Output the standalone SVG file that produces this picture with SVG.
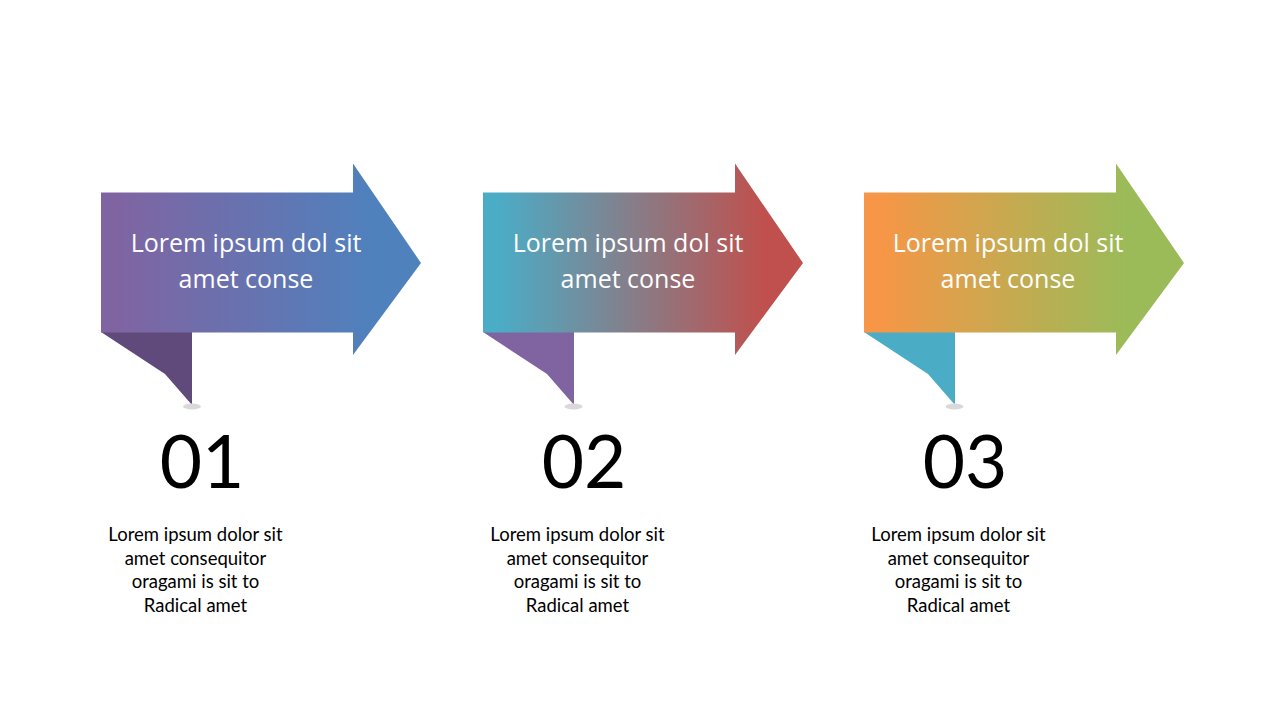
<svg xmlns="http://www.w3.org/2000/svg" width="1280" height="720" viewBox="0 0 1280 720">
<defs>
  <linearGradient id="g1" x1="0" y1="0" x2="1" y2="0">
    <stop offset="0.05" stop-color="#8064A2"/>
    <stop offset="0.85" stop-color="#4F81BD"/>
  </linearGradient>
  <linearGradient id="g2" x1="0" y1="0" x2="1" y2="0">
    <stop offset="0.05" stop-color="#4BACC6"/>
    <stop offset="0.88" stop-color="#C0504D"/>
  </linearGradient>
  <linearGradient id="g3" x1="0" y1="0" x2="1" y2="0">
    <stop offset="0.05" stop-color="#F79646"/>
    <stop offset="0.82" stop-color="#9BBB59"/>
  </linearGradient>
  <path id="arrowShape" d="M0,192.5 H252 V163.5 L320,263 L252,355 V332.5 H0 Z"/>
  <path id="foldShape" d="M0,332 H91 V405 L64,374 Z"/>
</defs>
<style>
  .head { font-family: "Open Sans", "Noto Sans", "DejaVu Sans", sans-serif; font-size: 25px; fill: #FFFFFF; text-anchor: middle; }
  .num { font-family: Lato, "Liberation Sans", sans-serif; font-size: 73px; fill: #000000; text-anchor: middle; }
  .body { font-family: Lato, "Liberation Sans", sans-serif; font-size: 18.5px; fill: #000000; text-anchor: middle; }
  .pin { fill: #D9D9D9; }
</style>
<rect width="1280" height="720" fill="#FFFFFF"/>

<g id="step1" transform="translate(101,0)">
  <use href="#foldShape" fill="#604A7B"/>
  <ellipse class="pin" cx="91" cy="406.5" rx="9" ry="3"/>
  <use href="#arrowShape" fill="url(#g1)"/>
  <text class="head" x="145" y="252">Lorem ipsum dol sit</text>
  <text class="head" x="145" y="288">amet conse</text>
  <text class="num" x="101" y="488">01</text>
  <text class="body" x="94.5" y="541">Lorem ipsum dolor sit</text>
  <text class="body" x="94.5" y="565">amet consequitor</text>
  <text class="body" x="94.5" y="588">oragami is sit to</text>
  <text class="body" x="94.5" y="612">Radical amet</text>
</g>

<g id="step2" transform="translate(483,0)">
  <use href="#foldShape" fill="#8064A2"/>
  <ellipse class="pin" cx="90.5" cy="406.5" rx="9" ry="3"/>
  <use href="#arrowShape" fill="url(#g2)"/>
  <text class="head" x="145" y="252">Lorem ipsum dol sit</text>
  <text class="head" x="145" y="288">amet conse</text>
  <text class="num" x="101" y="488">02</text>
  <text class="body" x="94.5" y="541">Lorem ipsum dolor sit</text>
  <text class="body" x="94.5" y="565">amet consequitor</text>
  <text class="body" x="94.5" y="588">oragami is sit to</text>
  <text class="body" x="94.5" y="612">Radical amet</text>
</g>

<g id="step3" transform="translate(864,0)">
  <use href="#foldShape" fill="#4BACC6"/>
  <ellipse class="pin" cx="90.5" cy="406.5" rx="9" ry="3"/>
  <use href="#arrowShape" fill="url(#g3)"/>
  <text class="head" x="144" y="252">Lorem ipsum dol sit</text>
  <text class="head" x="144" y="288">amet conse</text>
  <text class="num" x="101" y="488">03</text>
  <text class="body" x="94.5" y="541">Lorem ipsum dolor sit</text>
  <text class="body" x="94.5" y="565">amet consequitor</text>
  <text class="body" x="94.5" y="588">oragami is sit to</text>
  <text class="body" x="94.5" y="612">Radical amet</text>
</g>

<g id="connectors"></g>
</svg>
